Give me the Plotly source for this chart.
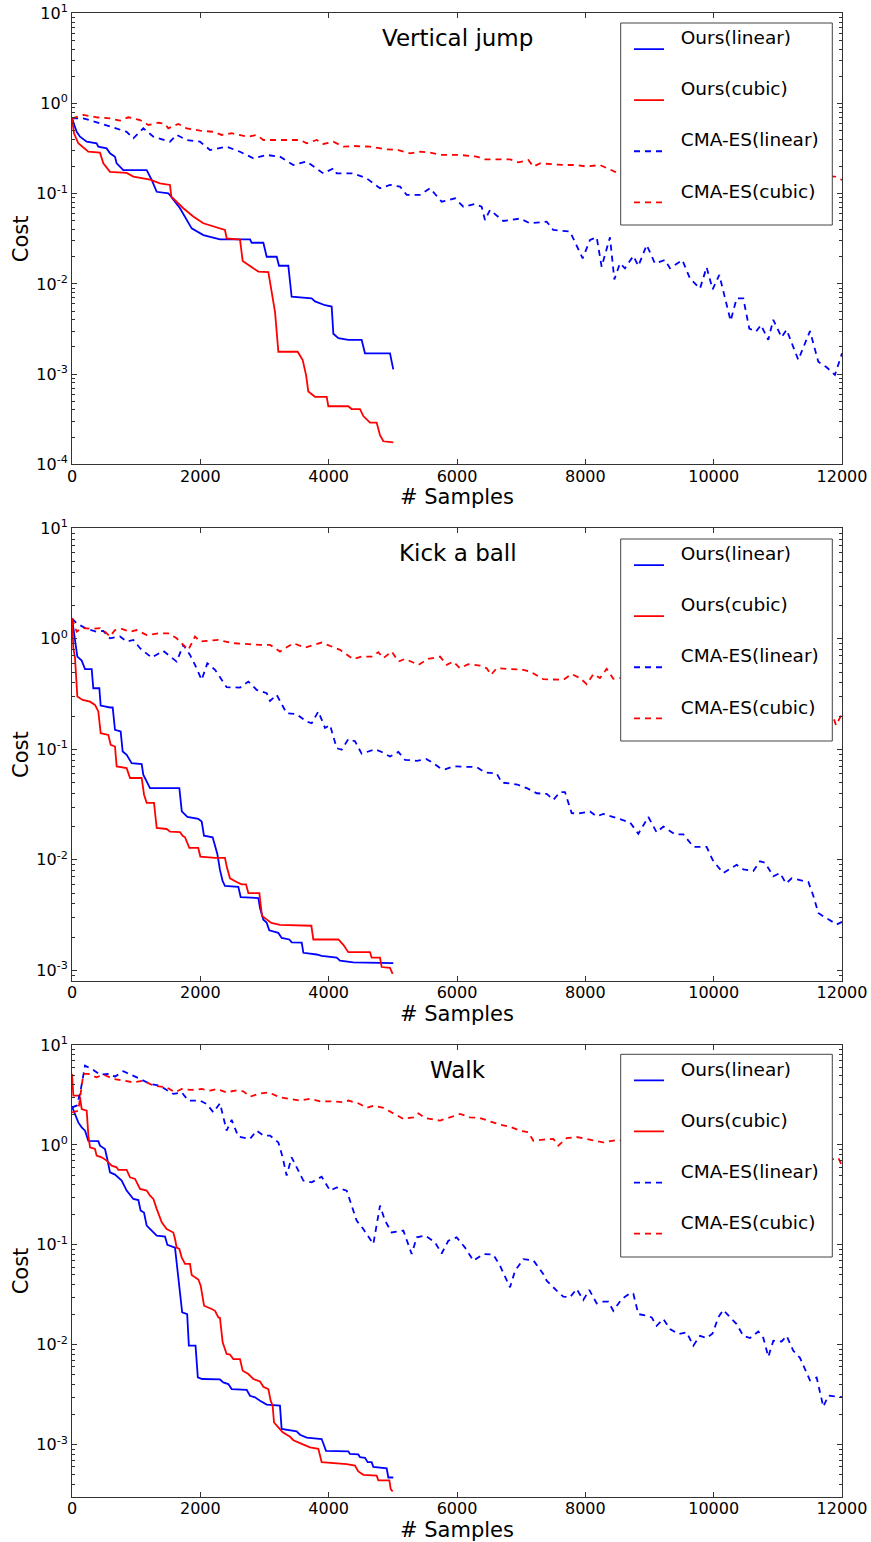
import math
import plotly.graph_objects as go

# ---------------- data ----------------
SERIES_NAMES = ["Ours(linear)", "Ours(cubic)", "CMA-ES(linear)", "CMA-ES(cubic)"]
PANEL_TITLES = ["Vertical jump", "Kick a ball", "Walk"]
X_TICKS = [0, 2000, 4000, 6000, 8000, 10000, 12000]
Y_MIN = [1e-4, 8e-4, 3e-4]
Y_MAX = 10

jump_ours_linear = [(0,0.685),(73,0.486),(125,0.428),(229,0.377),(384,0.362),(410,0.332),(540,0.318),(592,0.28),(670,0.257),(696,0.217),(800,0.183),(1164,0.183),(1242,0.142),(1320,0.105),(1502,0.101),(1580,0.085),(1683,0.069),(1865,0.0413),(2047,0.0348),(2306,0.0312),(2774,0.0312),(2800,0.0286),(2982,0.0286),(3034,0.020),(3190,0.020),(3226,0.0159),(3371,0.0159),(3423,0.0072),(3735,0.0069),(3787,0.0064),(3865,0.0061),(3943,0.0058),(4047,0.0056),(4073,0.0028),(4151,0.0025),(4307,0.0024),(4514,0.0024),(4566,0.0017),(4956,0.0017),(5007,0.00113)]
jump_ours_cubic = [(0,0.685),(31,0.468),(98,0.362),(254,0.292),(436,0.285),(488,0.217),(592,0.175),(852,0.170),(956,0.155),(1216,0.143),(1371,0.130),(1527,0.125),(1548,0.093),(1735,0.069),(1890,0.056),(2046,0.047),(2384,0.0396),(2411,0.032),(2618,0.031),(2660,0.018),(2826,0.0149),(2904,0.0137),(3060,0.0135),(3112,0.0082),(3164,0.0049),(3216,0.00177),(3517,0.00177),(3595,0.00143),(3647,0.00098),(3683,0.00064),(3787,0.00056),(3969,0.00056),(3995,0.00044),(4306,0.00044),(4358,0.00041),(4488,0.00041),(4540,0.000343),(4644,0.00029),(4748,0.00029),(4800,0.00021),(4852,0.00018),(5007,0.000175)]
jump_cma_linear = [(0,0.685),(177,0.685),(436,0.603),(696,0.531),(852,0.486),(956,0.411),(1112,0.531),(1268,0.428),(1527,0.377),(1631,0.448),(1787,0.394),(1995,0.377),(2151,0.305),(2410,0.332),(2618,0.292),(2826,0.247),(3034,0.269),(3241,0.257),(3449,0.208),(3657,0.227),(3917,0.168),(4073,0.191),(4125,0.168),(4384,0.168),(4592,0.148),(4800,0.115),(4956,0.125),(5112,0.12),(5215,0.097),(5423,0.097),(5579,0.115),(5761,0.0815),(5969,0.089),(6099,0.0718),(6280,0.0769),(6384,0.0718),(6436,0.051),(6514,0.066),(6722,0.0498),(6982,0.053),(7137,0.047),(7397,0.049),(7501,0.0396),(7761,0.038),(7958,0.0192),(8073,0.0307),(8177,0.0329),(8254,0.0155),(8384,0.0329),(8452,0.0112),(8540,0.0169),(8618,0.0149),(8748,0.0204),(8826,0.0158),(8956,0.027),(9085,0.0169),(9241,0.0184),(9319,0.0149),(9511,0.0184),(9631,0.0115),(9787,0.0089),(9890,0.0153),(9984,0.0087),(10088,0.0126),(10264,0.0039),(10358,0.0069),(10462,0.0069),(10555,0.0032),(10659,0.00295),(10737,0.0035),(10851,0.0024),(10929,0.004),(11059,0.00256),(11137,0.0031),(11319,0.00144),(11501,0.003),(11631,0.00137),(11760,0.00119),(11890,0.00098),(12000,0.0017)]
jump_cma_cubic = [(0,0.685),(177,0.747),(384,0.703),(592,0.685),(748,0.645),(878,0.703),(1060,0.656),(1190,0.578),(1346,0.612),(1450,0.593),(1501,0.531),(1657,0.593),(1787,0.531),(1995,0.5),(2203,0.486),(2332,0.448),(2488,0.468),(2748,0.428),(2878,0.448),(2982,0.394),(3241,0.394),(3553,0.394),(3657,0.362),(3813,0.394),(3917,0.356),(4073,0.377),(4229,0.332),(4384,0.338),(4644,0.332),(4904,0.31),(5086,0.305),(5268,0.28),(5423,0.292),(5579,0.285),(5761,0.269),(6046,0.269),(6306,0.257),(6436,0.24),(6826,0.24),(6956,0.223),(7112,0.236),(7190,0.2),(7293,0.217),(7657,0.208),(7864,0.208),(8020,0.2),(8228,0.208),(8462,0.175),(8800,0.172),(9200,0.168),(9600,0.166),(10000,0.163),(10400,0.16),(10800,0.158),(11200,0.156),(11600,0.158),(11890,0.155),(12000,0.142)]

kick_ours_linear = [(0,1.53),(47,0.944),(83,0.69),(151,0.635),(203,0.531),(307,0.531),(332,0.357),(426,0.357),(447,0.249),(592,0.239),(634,0.239),(670,0.15),(758,0.145),(790,0.0955),(852,0.089),(930,0.075),(1004,0.074),(1086,0.0734),(1111,0.059),(1216,0.0446),(1673,0.0446),(1711,0.0274),(1798,0.0244),(1968,0.0235),(2021,0.0222),(2057,0.0165),(2192,0.016),(2229,0.0132),(2265,0.0113),(2306,0.0081),(2348,0.0064),(2384,0.0058),(2592,0.0057),(2629,0.0046),(2904,0.0045),(2930,0.00366),(2982,0.00287),(3033,0.0027),(3074,0.0023),(3215,0.00218),(3268,0.00196),(3387,0.0019),(3424,0.00179),(3580,0.00178),(3606,0.00144),(3813,0.00139),(3891,0.00135),(4125,0.0013),(4177,0.00122),(4384,0.00118),(5007,0.00116)]
kick_ours_cubic = [(0,1.53),(21,0.822),(47,0.668),(83,0.30),(166,0.28),(281,0.27),(358,0.252),(410,0.22),(447,0.14),(566,0.135),(603,0.11),(670,0.106),(696,0.07),(852,0.0675),(904,0.055),(1086,0.055),(1122,0.039),(1164,0.0327),(1278,0.0327),(1320,0.0194),(1476,0.019),(1527,0.018),(1683,0.0178),(1725,0.0165),(1761,0.016),(1828,0.0128),(1968,0.0128),(2000,0.0107),(2229,0.0104),(2384,0.0104),(2411,0.0087),(2462,0.0068),(2566,0.0063),(2644,0.0060),(2712,0.0060),(2748,0.005),(2920,0.005),(2961,0.0031),(3033,0.00289),(3107,0.00268),(3242,0.00258),(3730,0.00253),(3761,0.0019),(4151,0.0019),(4229,0.0017),(4306,0.00146),(4644,0.00146),(4670,0.0013),(4800,0.0013),(4826,0.00107),(4956,0.00105),(4997,0.00093)]
kick_cma_linear = [(0,1.53),(73,1.38),(229,1.23),(384,1.16),(488,1.18),(592,1.01),(748,1.05),(852,0.944),(956,0.977),(1060,0.822),(1242,0.676),(1423,0.778),(1501,0.715),(1631,0.622),(1735,0.881),(1839,0.715),(1917,0.581),(2021,0.425),(2109,0.601),(2229,0.524),(2410,0.365),(2618,0.362),(2748,0.41),(2878,0.345),(3034,0.322),(3086,0.274),(3190,0.311),(3345,0.212),(3501,0.208),(3657,0.178),(3735,0.172),(3839,0.22),(3943,0.156),(4021,0.166),(4125,0.1025),(4203,0.099),(4307,0.124),(4411,0.118),(4514,0.0912),(4722,0.1),(4826,0.0945),(4956,0.086),(5086,0.0945),(5190,0.0803),(5372,0.0787),(5527,0.0815),(5631,0.075),(5735,0.0676),(5813,0.066),(5943,0.07),(6307,0.069),(6436,0.0617),(6618,0.0605),(6696,0.050),(6826,0.049),(6940,0.048),(7086,0.0446),(7242,0.040),(7398,0.0395),(7502,0.0349),(7605,0.041),(7683,0.041),(7787,0.0265),(7890,0.0262),(8073,0.0274),(8177,0.0247),(8281,0.026),(8410,0.0247),(8540,0.0234),(8696,0.0218),(8826,0.0172),(8982,0.0244),(9112,0.0177),(9216,0.020),(9398,0.017),(9528,0.017),(9684,0.0131),(9890,0.0131),(9994,0.0097),(10150,0.0076),(10358,0.009),(10462,0.0082),(10618,0.0079),(10722,0.0097),(10800,0.0094),(10930,0.0071),(11034,0.0076),(11128,0.0061),(11216,0.0068),(11476,0.0063),(11554,0.0047),(11631,0.0033),(11735,0.003),(11787,0.0029),(11917,0.0026),(12000,0.00274)]
kick_cma_cubic = [(0,1.53),(73,1.16),(151,1.25),(307,1.23),(436,1.25),(514,1.16),(592,1.05),(670,1.2),(774,1.23),(904,1.16),(1008,1.2),(1164,1.08),(1346,1.12),(1501,1.12),(1631,1.01),(1709,0.912),(1813,0.794),(1917,1.05),(1995,0.944),(2099,0.957),(2281,0.977),(2514,0.912),(2748,0.893),(2930,0.881),(3086,0.881),(3241,0.766),(3449,0.912),(3631,0.834),(3891,0.925),(4021,0.869),(4177,0.794),(4384,0.654),(4514,0.69),(4670,0.69),(4774,0.757),(4852,0.668),(4982,0.766),(5086,0.622),(5190,0.658),(5398,0.581),(5553,0.658),(5735,0.69),(5839,0.581),(5943,0.622),(6046,0.542),(6176,0.589),(6358,0.573),(6462,0.542),(6530,0.472),(6618,0.542),(7034,0.524),(7137,0.506),(7345,0.431),(7657,0.425),(7787,0.479),(7917,0.441),(8021,0.389),(8125,0.479),(8228,0.441),(8332,0.535),(8436,0.434),(8540,0.441),(9000,0.40),(9500,0.36),(10000,0.33),(10500,0.30),(11000,0.27),(11500,0.23),(11865,0.194),(11907,0.165),(12000,0.21)]

walk_ours_linear = [(0,2.42),(47,2.04),(98,1.68),(151,1.5),(203,1.39),(255,1.1),(410,1.09),(436,0.984),(514,0.912),(550,0.724),(592,0.532),(670,0.505),(774,0.44),(852,0.349),(956,0.288),(1034,0.281),(1070,0.22),(1122,0.211),(1164,0.156),(1242,0.139),(1320,0.124),(1450,0.121),(1486,0.1),(1605,0.094),(1641,0.055),(1665,0.0438),(1717,0.0211),(1795,0.0203),(1821,0.0098),(1925,0.0098),(1961,0.00472),(2029,0.00455),(2306,0.0045),(2358,0.0042),(2436,0.00405),(2488,0.00361),(2722,0.00354),(2774,0.00309),(2852,0.00298),(2930,0.00276),(3034,0.00252),(3241,0.00246),(3267,0.00144),(3501,0.00136),(3553,0.00126),(3657,0.00118),(3891,0.00114),(3959,0.00087),(4307,0.00086),(4332,0.00081),(4462,0.0008),(4488,0.00075),(4566,0.00074),(4608,0.00067),(4670,0.00067),(4696,0.0006),(4904,0.00058),(4930,0.00047),(5007,0.00047)]
walk_ours_cubic = [(0,5.14),(21,3.11),(98,3.11),(125,2.99),(151,2.29),(229,2.2),(255,1.24),(281,0.946),(358,0.912),(384,0.782),(462,0.751),(540,0.697),(618,0.621),(696,0.597),(722,0.562),(852,0.562),(904,0.474),(982,0.457),(1060,0.363),(1164,0.349),(1216,0.311),(1268,0.288),(1320,0.229),(1398,0.168),(1475,0.144),(1579,0.133),(1605,0.115),(1631,0.094),(1673,0.091),(1709,0.075),(1761,0.0644),(1839,0.0644),(1865,0.05),(1969,0.045),(2006,0.039),(2058,0.0246),(2177,0.0228),(2229,0.0219),(2281,0.0188),(2306,0.0186),(2348,0.0106),(2384,0.0091),(2410,0.0081),(2462,0.008),(2514,0.0072),(2618,0.0072),(2660,0.0055),(2748,0.0051),(2826,0.00455),(2930,0.0043),(2982,0.0038),(3060,0.0036),(3096,0.00276),(3127,0.00246),(3148,0.00167),(3216,0.00149),(3284,0.00133),(3398,0.0012),(3450,0.00111),(3580,0.00102),(3710,0.00094),(3839,0.00091),(3891,0.00067),(4281,0.00064),(4410,0.00062),(4462,0.00054),(4540,0.0005),(4748,0.00049),(4774,0.00044),(4946,0.00044),(4967,0.00036),(4997,0.00034)]
walk_cma_linear = [(0,2.38),(73,2.47),(125,3.24),(203,6.22),(333,5.63),(436,5.06),(592,5.14),(670,4.83),(800,5.46),(956,4.94),(1060,4.58),(1216,4.08),(1371,3.92),(1475,3.55),(1579,3.24),(1709,3.36),(1813,2.78),(1995,2.78),(2099,2.57),(2203,2.12),(2306,2.61),(2410,1.39),(2488,1.78),(2592,1.21),(2774,1.15),(2878,1.39),(2982,1.24),(3086,1.24),(3216,1.06),(3283,0.751),(3345,0.493),(3423,0.751),(3501,0.597),(3605,0.44),(3735,0.422),(3891,0.482),(4021,0.349),(4125,0.376),(4281,0.349),(4436,0.175),(4540,0.144),(4696,0.102),(4800,0.247),(4878,0.175),(4982,0.133),(5164,0.139),(5294,0.081),(5372,0.119),(5502,0.124),(5657,0.106),(5761,0.082),(5865,0.110),(5995,0.119),(6125,0.094),(6255,0.0695),(6410,0.081),(6566,0.08),(6670,0.062),(6826,0.0376),(6904,0.055),(7034,0.072),(7190,0.07),(7346,0.051),(7397,0.0438),(7553,0.0348),(7657,0.0303),(7761,0.0299),(7864,0.0362),(7968,0.0281),(8062,0.0354),(8177,0.026),(8281,0.027),(8358,0.027),(8436,0.0219),(8566,0.0287),(8696,0.0327),(8748,0.0325),(8826,0.0203),(8956,0.0196),(9034,0.0188),(9111,0.0155),(9215,0.0181),(9319,0.0144),(9449,0.0128),(9579,0.0133),(9683,0.0098),(9787,0.0123),(9890,0.0117),(9984,0.013),(10072,0.0188),(10150,0.0223),(10254,0.0191),(10358,0.0161),(10462,0.0123),(10566,0.0117),(10696,0.0136),(10774,0.0117),(10852,0.0076),(10930,0.011),(11059,0.0108),(11137,0.0123),(11241,0.0087),(11345,0.0074),(11501,0.0044),(11605,0.0047),(11709,0.0024),(11787,0.0031),(12000,0.003)]
walk_cma_cubic = [(0,2.12),(98,2.2),(177,5.14),(255,5.14),(384,4.75),(488,5.06),(644,4.58),(800,4.4),(956,4.23),(1112,4.4),(1268,3.92),(1475,3.77),(1605,3.36),(1709,3.63),(1865,3.55),(2021,3.63),(2151,3.5),(2255,3.63),(2410,3.36),(2540,3.5),(2670,3.44),(2774,3.04),(2904,3.24),(3060,3.36),(3241,2.99),(3397,2.89),(3553,2.78),(3709,2.89),(3865,2.73),(4073,2.73),(4229,2.67),(4307,2.78),(4462,2.61),(4592,2.35),(4696,2.47),(4852,2.35),(4982,2.12),(5060,1.97),(5164,1.82),(5320,1.89),(5398,2.07),(5502,1.86),(5735,1.75),(5891,1.89),(6046,2.04),(6202,1.89),(6358,1.86),(6514,1.72),(6670,1.6),(6826,1.52),(6982,1.39),(7112,1.34),(7190,1.1),(7345,1.13),(7501,1.15),(7579,0.984),(7709,1.17),(7864,1.2),(8020,1.15),(8124,1.1),(8280,1.06),(8488,1.12),(9000,1.05),(9500,0.98),(10000,0.92),(10500,0.88),(11000,0.82),(11500,0.76),(11865,0.72),(11943,0.74),(12000,0.62)]

PANEL_DATA = [
    [jump_ours_linear, jump_ours_cubic, jump_cma_linear, jump_cma_cubic],
    [kick_ours_linear, kick_ours_cubic, kick_cma_linear, kick_cma_cubic],
    [walk_ours_linear, walk_ours_cubic, walk_cma_linear, walk_cma_cubic],
]

# ---------------- styling ----------------
FONT = "DejaVu Sans"
SERIES_COLORS = ["#0000ff", "#ff0000", "#0000ff", "#ff0000"]
SERIES_DASH = ["solid", "solid", "6px,5px", "6px,5px"]
W, H = 871, 1542
M_L, M_R, M_T, M_B = 72, 29, 13, 45
PLOT_H = H - M_T - M_B
PANEL_PX = [(13.3, 464.3), (528.3, 981.0), (1045.0, 1497.0)]
LEGEND_PX = [(23.0, 225.0), (539.0, 741.0), (1054.3, 1257.0)]
LEGEND_X_PX = (620.7, 832.3)
LEGEND_ITEM_X = 629


def py(p):
    return 1 - (p - M_T) / PLOT_H


def px(p):
    return (p - M_L) / (W - M_L - M_R)


fig = go.Figure()
layout = dict(
    width=W, height=H,
    margin=dict(l=M_L, r=M_R, t=M_T, b=M_B, autoexpand=False),
    paper_bgcolor="white", plot_bgcolor="white",
    font=dict(family=FONT, color="black", size=16),
    showlegend=True,
    shapes=[], annotations=[],
)

for i in range(3):
    sfx = "" if i == 0 else str(i + 1)
    xa, ya = "x" + sfx, "y" + sfx
    leg = "legend" + sfx
    for j, (name, pts) in enumerate(zip(SERIES_NAMES, PANEL_DATA[i])):
        xs = [p[0] for p in pts]
        ys = [p[1] for p in pts]
        fig.add_trace(go.Scatter(
            x=xs, y=ys, mode="lines", name="&nbsp;&nbsp;" + name + "<br>&nbsp;",
            line=dict(color=SERIES_COLORS[j], width=1.8, dash=SERIES_DASH[j]),
            xaxis=xa, yaxis=ya, legend=leg, showlegend=True,
        ))
    top, bot = PANEL_PX[i]
    ymin = Y_MIN[i]
    lo = math.floor(math.log10(ymin))
    major = [10.0 ** k for k in range(lo, 2) if 10.0 ** k >= ymin * 0.999]
    minor = [m * 10.0 ** k for k in range(lo, 1) for m in range(2, 10) if ymin * 0.999 <= m * 10.0 ** k <= 10]
    layout["xaxis" + sfx] = dict(
        domain=[0, 1], anchor=ya, range=[0, 12000],
        tickmode="array", tickvals=X_TICKS, ticktext=[str(v) for v in X_TICKS],
        ticks="inside", ticklen=5, tickwidth=1, tickcolor="#333",
        showline=True, linecolor="#333", linewidth=1, mirror="allticks",
        showgrid=False, zeroline=False, ticklabelstandoff=-3,
        tickfont=dict(size=16, family=FONT, color="black"),
        title=dict(text="# Samples", font=dict(size=21, family=FONT, color="black"), standoff=2),
    )
    layout["yaxis" + sfx] = dict(
        domain=[py(bot), py(top)], anchor=xa, type="log",
        range=[math.log10(ymin), math.log10(Y_MAX)],
        tickmode="array", tickvals=major,
        ticktext=["10<sup>%d</sup>" % round(math.log10(v)) for v in major],
        ticks="inside", ticklen=5, tickwidth=1, tickcolor="#333",
        minor=dict(tickmode="array", tickvals=minor, ticks="inside", ticklen=3, tickcolor="#333", showgrid=False),
        showline=True, linecolor="#333", linewidth=1, mirror="allticks",
        showgrid=False, zeroline=False,
        tickfont=dict(size=16, family=FONT, color="black"),
        title=dict(text="Cost", font=dict(size=21, family=FONT, color="black"), standoff=1),
    )
    lt, lb = LEGEND_PX[i]
    layout["shapes"].append(dict(
        type="rect", xref="paper", yref="paper", layer="above",
        x0=px(LEGEND_X_PX[0]), x1=px(LEGEND_X_PX[1]), y0=py(lb), y1=py(lt),
        fillcolor="white", line=dict(color="#444", width=1),
    ))
    layout[leg] = dict(
        x=px(LEGEND_ITEM_X), y=py(lt - 4.5), xanchor="left", yanchor="top",
        bgcolor="rgba(0,0,0,0)", borderwidth=0, itemwidth=30, valign="middle",
        font=dict(size=18.5, family=FONT, color="black"), tracegroupgap=0,
        itemclick=False, itemdoubleclick=False,
    )
    layout["annotations"].append(dict(
        text=PANEL_TITLES[i], xref="paper", yref="paper",
        x=px(458), y=py(top + 24.5), xanchor="center", yanchor="middle",
        showarrow=False, font=dict(size=23, family=FONT, color="black"),
    ))

fig.update_layout(**layout)
fig.write_html("out.html")
